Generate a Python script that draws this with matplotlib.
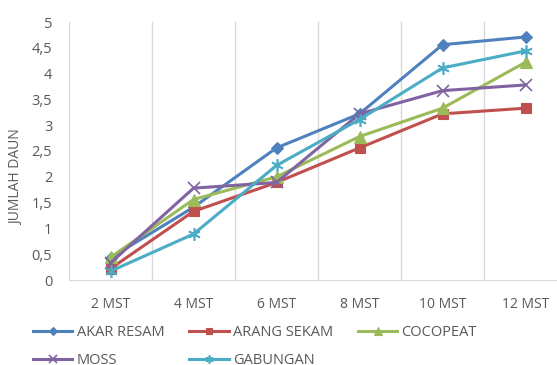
import numpy as np
import matplotlib.pyplot as plt
from matplotlib.ticker import FuncFormatter

# minggu setelah tanam
weeks = ["2 MST", "4 MST", "6 MST", "8 MST", "10 MST", "12 MST"]

akar_resam = [0.43, 1.41, 2.56, 3.22, 4.56, 4.71]
arang_sekam = [0.22, 1.33, 1.89, 2.56, 3.22, 3.33]
cocopeat = [0.44, 1.56, 2.00, 2.78, 3.33, 4.22]
moss = [0.33, 1.78, 1.89, 3.22, 3.67, 3.78]
gabungan = [0.17, 0.89, 2.22, 3.11, 4.11, 4.44]

series = [
    ("AKAR RESAM", akar_resam, "#4F81BD", "D", 6),
    ("ARANG SEKAM", arang_sekam, "#C0504D", "s", 7),
    ("COCOPEAT", cocopeat, "#9BBB59", "^", 8),
    ("MOSS", moss, "#8064A2", "x", 8),
    ("GABUNGAN", gabungan, "#4BACC6", (6, 2, 0), 9),
]

plt.rcParams['font.family'] = ['Open Sans', 'DejaVu Sans']
txt = "#595959"

fig = plt.figure(figsize=(5.57, 3.65), dpi=100)
W, H = 557, 365
ax = fig.add_axes([69 / W, (H - 280) / H, 498 / W, 258 / H])

x = np.arange(len(weeks))
lines = []
for name, vals, col, mk, ms in series:
    ln, = ax.plot(x, vals, color=col, linewidth=2.2, marker=mk, markersize=ms,
                  markeredgewidth=1.2 if mk in ("x", (6, 2, 0)) else 0.8,
                  label=name)
    lines.append(ln)

ax.set_xlim(-0.5, len(weeks) - 0.5)
ax.set_ylim(0, 5)
ax.set_yticks(np.arange(0, 5.01, 0.5))
ax.yaxis.set_major_formatter(FuncFormatter(lambda v, p: f"{v:g}".replace(".", ",")))
ax.set_xticks(x)
ax.set_xticklabels(weeks)
ax.set_xticks(np.arange(-0.5, len(weeks)), minor=True)
ax.grid(True, which="minor", axis="x", color="#D9D9D9", linewidth=1)
ax.tick_params(which="both", length=0)
ax.tick_params(axis="y", labelsize=10.5, labelcolor=txt, pad=12)
ax.tick_params(axis="x", labelsize=10, labelcolor=txt, pad=12)

for s in ["top", "right", "left"]:
    ax.spines[s].set_visible(False)
ax.spines["bottom"].set_color("#D9D9D9")

fig.text(17 / W, 1 - 177 / H, "JUMLAH DAUN", rotation=90, ha="center",
         va="center", fontsize=10, color=txt)

# legend fills column by column, reorder so rows read left to right
order = [0, 3, 1, 4, 2]
leg = fig.legend([lines[i] for i in order], [series[i][0] for i in order],
                 loc="upper left", bbox_to_anchor=(33 / W, 1 - 325 / H),
                 ncol=3, frameon=False, fontsize=10.5, handlelength=2.7,
                 handletextpad=0.3, columnspacing=1.7, labelspacing=0.9,
                 borderaxespad=0, borderpad=0, markerscale=0.65)
for t in leg.get_texts():
    t.set_color(txt)

fig.savefig("out.png", dpi=100)
